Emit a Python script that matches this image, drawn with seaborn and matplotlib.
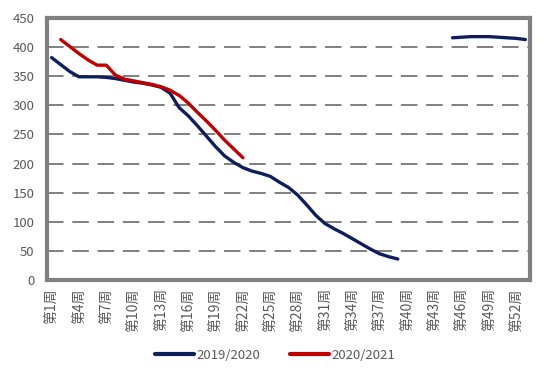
import matplotlib
matplotlib.use('Agg')
import matplotlib.pyplot as plt
import seaborn as sns
import numpy as np
import pandas as pd

# weekly values
weeks_1920_a = list(range(1, 40))
vals_1920_a = [382, 370, 358, 349, 349, 349, 348, 346, 343, 340,
               338, 335, 331, 321, 296, 282, 265, 247, 229, 213,
               202, 193, 187, 183, 178, 168, 159, 146, 129, 111,
               97, 88, 80, 71, 62, 53, 45, 40, 36]
weeks_1920_b = list(range(45, 54))
vals_1920_b = [416, 417, 418, 418, 418, 417, 416, 415, 413]

weeks_2021 = list(range(2, 23))
vals_2021 = [413, 401, 389, 378, 369, 369, 352, 345, 342, 339,
             336, 332, 326, 317, 304, 288, 273, 257, 240, 225, 210]

seasons = ['2019/2020', '2020/2021']
colors = ['#0E1E5B', '#C00000']
tick_weeks = list(range(1, 53, 3))

df = pd.concat([
    pd.DataFrame({'week': weeks_1920_a, 'value': vals_1920_a, 'season': seasons[0], 'seg': 'a'}),
    pd.DataFrame({'week': weeks_1920_b, 'value': vals_1920_b, 'season': seasons[0], 'seg': 'b'}),
    pd.DataFrame({'week': weeks_2021, 'value': vals_2021, 'season': seasons[1], 'seg': 'c'}),
], ignore_index=True)

sns.set_style('white')
plt.rcParams['font.family'] = ['Noto Sans CJK SC', 'DejaVu Sans']

fig = plt.figure(figsize=(5.5, 3.83), dpi=100)
ax = fig.add_axes([0.0855, 0.269, 0.878, 0.684])

sns.lineplot(data=df, x='week', y='value', hue='season', hue_order=seasons,
             units='seg', estimator=None, palette=colors, linewidth=2.4,
             solid_capstyle='round', legend=False, ax=ax, zorder=3)

ax.set_xlim(0.5, 53.5)
ax.set_ylim(0, 450)
ax.set_yticks(range(0, 451, 50))
ax.set_xticks(tick_weeks)
ax.set_xticklabels([f'第{w}周' for w in tick_weeks], rotation=90)
ax.tick_params(axis='both', length=0, colors='#595959')
ax.tick_params(axis='y', pad=9, labelsize=9.5)
ax.tick_params(axis='x', pad=6, labelsize=10)
ax.set_xlabel('')
ax.set_ylabel('')

for v in range(50, 450, 50):
    ax.axhline(v, color='#7F7F7F', linewidth=1.4, linestyle=(0, (8.5, 4.5)), zorder=1)

for s in ax.spines.values():
    s.set_visible(True)
    s.set_color('#808080')
    s.set_linewidth(3)

handles = [plt.Line2D([], [], color=c, linewidth=3) for c in colors]
fig.legend(handles, seasons, loc='center', bbox_to_anchor=(0.5, 0.072), ncol=2,
           frameon=False, handlelength=3.0, handletextpad=0.2, columnspacing=2.2,
           labelcolor='#595959', prop={'size': 9.5})

fig.savefig('out.png', dpi=100)
